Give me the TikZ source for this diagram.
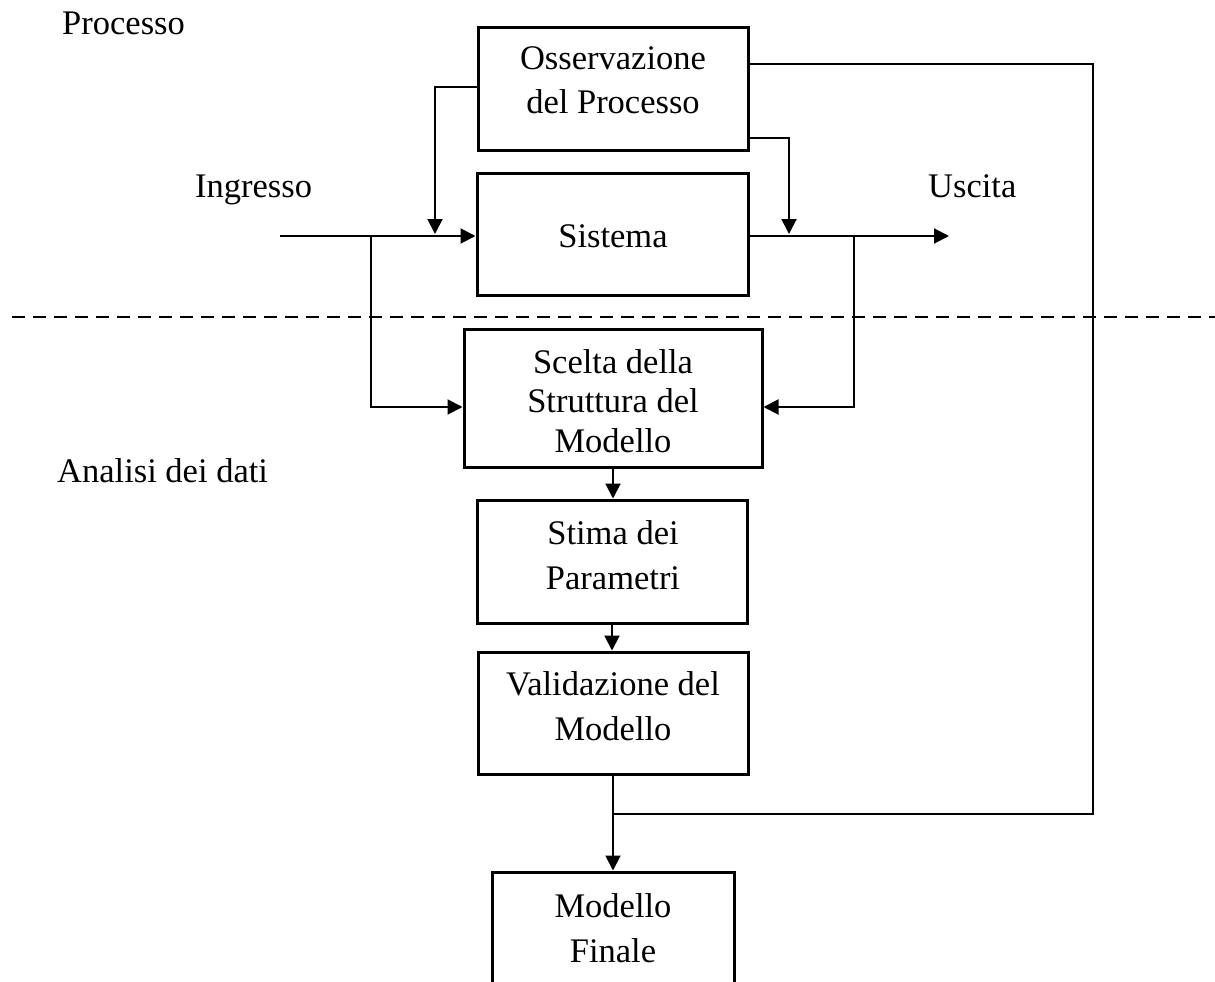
\documentclass[tikz,border=0pt]{standalone}
\usepackage{fontspec}
\setmainfont{Liberation Serif}
\usetikzlibrary{arrows.meta}

\begin{document}
\begin{tikzpicture}[x=1pt,y=-1pt,
  box/.style={draw, line width=3pt, inner sep=0pt},
  conn/.style={line width=2pt},
  arr/.style={conn, -{Triangle[length=15pt,width=15pt]}},
  txt/.style={anchor=base, inner sep=0pt, font=\fontsize{34.5}{43}\selectfont},
  side/.style={txt, anchor=base west},
  sep/.style={line width=2.5pt, dash pattern=on 13pt off 8pt}]

  \clip (0,0) rectangle (1215,982);
  \fill[white] (0,0) rectangle (1215,982);

  % blocks
  \node[box, minimum width=270pt, minimum height=122pt] (oss) at (613,89)    {};
  \node[box, minimum width=271pt, minimum height=122pt] (sis) at (612.5,234) {};
  \node[box, minimum width=298pt, minimum height=138pt] (sce) at (613,398)   {};
  \node[box, minimum width=270pt, minimum height=123pt] (sti) at (612,561.5) {};
  \node[box, minimum width=270pt, minimum height=122pt] (val) at (613,713)   {};
  \node[box, minimum width=242pt, minimum height=160pt] (fin) at (613,952)   {};

  % block texts
  \node[txt] (oss1) at (613,70)  {Osservazione};
  \node[txt] (oss2) at (613,113) {del Processo};
  \node[txt] (sis1) at (613,247) {Sistema};
  \node[txt] (sce1) at (613,373) {Scelta della};
  \node[txt] (sce2) at (613,412) {Struttura del};
  \node[txt] (sce3) at (613,452) {Modello};
  \node[txt] (sti1) at (613,544) {Stima dei};
  \node[txt] (sti2) at (613,589) {Parametri};
  \node[txt] (val1) at (613,695) {Validazione del};
  \node[txt] (val2) at (613,740) {Modello};
  \node[txt] (fin1) at (613,917) {Modello};
  \node[txt] (fin2) at (613,962) {Finale};

  % side labels
  \node[side] (proc) at (62,35)   {Processo};
  \node[side] (ing)  at (195,197) {Ingresso};
  \node[side] (usc)  at (928,197) {Uscita};
  \node[side] (ana)  at (57,482)  {Analisi dei dati};

  % separator between process and data analysis
  \coordinate (sl) at (12,317);
  \coordinate (sr) at (1215,317);
  \draw[sep] (sl) -- (sr);

  % signal coordinates
  \coordinate (in)  at (280,236);
  \coordinate (bi)  at (371,236);
  \coordinate (fi)  at (435,234);
  \coordinate (fo)  at (789,234);
  \coordinate (bo)  at (854,236);
  \coordinate (out) at (949,236);
  \coordinate (fb)  at (1093,814);

  % input and output
  \draw[arr] (in) -- (sis.west |- in);
  \draw[arr] (sis.east |- out) -- (out);

  % observation of input and output
  \draw[arr] (oss.west |- 0,87) -| (fi);
  \draw[arr] (oss.east |- 0,138) -| (fo);

  % data to model structure choice
  \draw[arr] (bi) |- (sce.west |- 0,407);
  \draw[arr] (bo) |- (sce.east |- 0,407);

  % identification chain
  \draw[arr] (sce.south) -- (sce.south |- sti.north);
  \draw[arr] (sti.south) -- (sti.south |- val.north);
  \draw[arr] (val.south) -- (val.south |- fin.north);

  % feedback from observation
  \draw[conn] (oss.east |- 0,64) -| (fb) -- (val.south |- fb);
\end{tikzpicture}
\end{document}
